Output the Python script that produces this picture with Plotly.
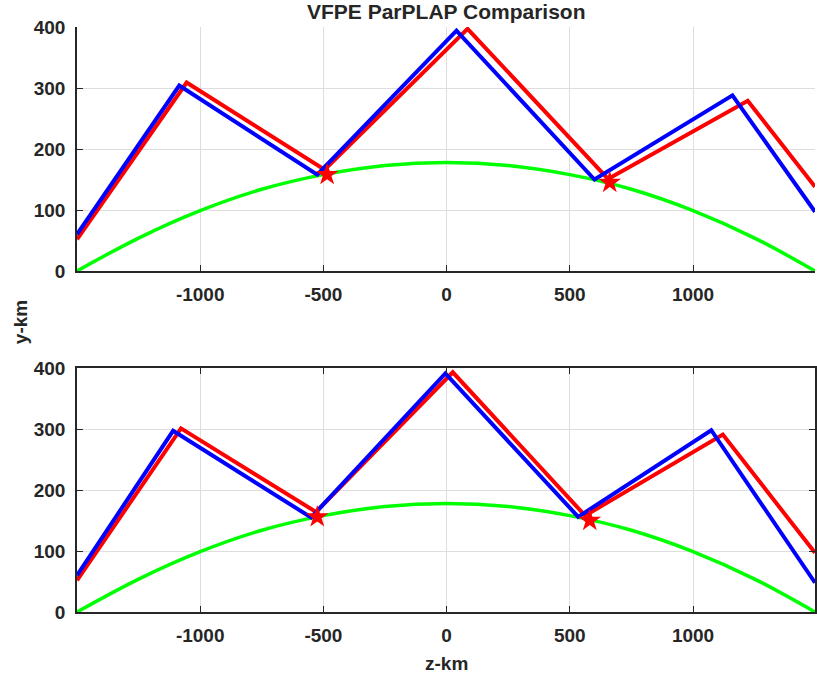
import plotly.graph_objects as go

# ---- data ----
z_ground = [-1500, -1250, -1000, -750, -500, -250, 0, 250, 500, 750, 1000, 1250, 1495]
y_ground = [0, 54, 99, 134, 158, 173, 178, 173, 158, 134, 99, 54, 0]

top_blue_z = [-1500, -1085, -525, 40, 600, 1160, 1495]
top_blue_y = [60, 304, 158, 394, 150, 288, 97]
top_red_z = [-1500, -1055, -495, 85, 655, 1222, 1495]
top_red_y = [52, 309, 166, 397, 151, 279, 138]
top_star_z = [-485, 662]
top_star_y = [158, 145]

bot_blue_z = [-1500, -1110, -550, -5, 534, 1074, 1495]
bot_blue_y = [60, 297, 155, 391, 156, 298, 48]
bot_red_z = [-1500, -1078, -530, 25, 562, 1121, 1495]
bot_red_y = [52, 301, 164, 393, 158, 291, 97]
bot_star_z = [-525, 581]
bot_star_y = [156, 150]

x_ticks = [-1000, -500, 0, 500, 1000]
x_tick_labels = ["-1000", "-500", "0", "500", "1000"]
y_ticks = [0, 100, 200, 300, 400]
y_tick_labels = ["0", "100", "200", "300", "400"]
title_text = "VFPE ParPLAP Comparison"
x_label = "z-km"
y_label = "y-km"

BLUE = "#0000ff"
RED = "#ff0000"
GREEN = "#00ff00"
AX = "#262626"
GRID = "#dedede"
FONT = "Liberation Sans, Arial, sans-serif"

fig = go.Figure()

def add_panel(xa, ya, bz, by, rz, ry, sz, sy):
    fig.add_trace(go.Scatter(x=z_ground, y=y_ground, mode="lines", line=dict(color=GREEN, width=3.5, shape="spline"),
                             xaxis=xa, yaxis=ya, showlegend=False))
    fig.add_trace(go.Scatter(x=rz, y=ry, mode="lines", line=dict(color=RED, width=4),
                             xaxis=xa, yaxis=ya, showlegend=False))
    fig.add_trace(go.Scatter(x=bz, y=by, mode="lines", line=dict(color=BLUE, width=4),
                             xaxis=xa, yaxis=ya, showlegend=False))
    fig.add_trace(go.Scatter(x=sz, y=sy, mode="markers", marker=dict(symbol="star", color=RED, size=17),
                             xaxis=xa, yaxis=ya, showlegend=False))

add_panel("x", "y", top_blue_z, top_blue_y, top_red_z, top_red_y, top_star_z, top_star_y)
add_panel("x2", "y2", bot_blue_z, bot_blue_y, bot_red_z, bot_red_y, bot_star_z, bot_star_y)

tickfont = dict(family=FONT, size=19, color=AX, weight="bold")
common_x = dict(range=[-1500, 1495], tickvals=x_ticks, ticktext=x_tick_labels, ticks="inside", ticklen=6,
                tickcolor=AX, showline=True, linecolor=AX, linewidth=1.5, showgrid=True, gridcolor=GRID,
                gridwidth=1, zeroline=False, tickfont=tickfont, ticklabelstandoff=5)
common_y = dict(range=[0, 400], tickvals=y_ticks, ticktext=y_tick_labels, ticks="inside", ticklen=6,
                tickcolor=AX, showline=True, linecolor=AX, linewidth=1.5, showgrid=True, gridcolor=GRID,
                gridwidth=1, zeroline=False, tickfont=tickfont, ticklabelstandoff=6)

top_dom = [(612 - 271) / 585, 1.0]
bot_dom = [0.0, (612 - 368) / 585]

fig.update_layout(
    width=817, height=679,
    margin=dict(l=77, r=0, t=27, b=67),
    paper_bgcolor="white", plot_bgcolor="white",
    xaxis=dict(**common_x, domain=[0, 1], anchor="y", mirror=False),
    yaxis=dict(**common_y, domain=top_dom, anchor="x", mirror=False),
    xaxis2=dict(**common_x, domain=[0, 1], anchor="y2", mirror="ticks"),
    yaxis2=dict(**common_y, domain=bot_dom, anchor="x2", mirror="ticks"),
    annotations=[
        dict(text=title_text, x=0.5, y=1 + 16 / 585, xref="paper", yref="paper", showarrow=False,
             xanchor="center", yanchor="middle", font=dict(family=FONT, size=21, color=AX, weight="bold")),
        dict(text=x_label, x=(447 - 77) / 740, y=(612 - 663) / 585, xref="paper", yref="paper", showarrow=False,
             xanchor="center", yanchor="middle", font=dict(family=FONT, size=19, color=AX, weight="bold")),
        dict(text=y_label, x=(20 - 77) / 740, y=(612 - 322) / 585, xref="paper", yref="paper", showarrow=False,
             xanchor="center", yanchor="middle", textangle=-90,
             font=dict(family=FONT, size=19, color=AX, weight="bold")),
    ],
)

fig.write_html(
    "out.html",
    config={"displayModeBar": False},
    post_script="document.body.style.margin='0';document.body.style.padding='0';"
                "document.body.style.overflow='hidden';document.documentElement.style.overflow='hidden';",
)
